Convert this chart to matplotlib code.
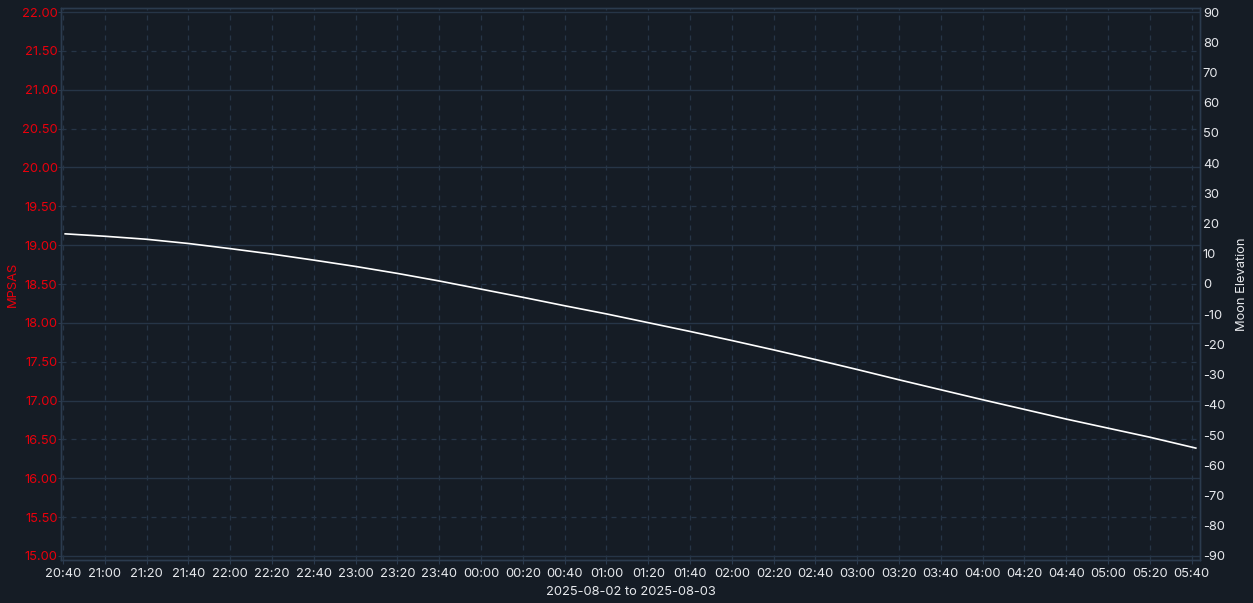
import matplotlib

matplotlib.use("Agg")
import matplotlib.dates as mdates
import matplotlib.pyplot as plt
import numpy as np
import pandas as pd

plt.rcParams["font.family"] = ["Inter", "DejaVu Sans"]
plt.rcParams["axes.unicode_minus"] = False

# Moon elevation (degrees)
times = [
    "2025-08-02 20:41", "2025-08-02 21:00", "2025-08-02 21:20", "2025-08-02 21:40",
    "2025-08-02 22:00", "2025-08-02 22:20", "2025-08-02 22:40", "2025-08-02 23:00",
    "2025-08-02 23:20", "2025-08-02 23:40", "2025-08-03 00:00", "2025-08-03 00:20",
    "2025-08-03 00:40", "2025-08-03 01:00", "2025-08-03 01:20", "2025-08-03 01:40",
    "2025-08-03 02:00", "2025-08-03 02:20", "2025-08-03 02:40", "2025-08-03 03:00",
    "2025-08-03 03:20", "2025-08-03 03:40", "2025-08-03 04:00", "2025-08-03 04:20",
    "2025-08-03 04:40", "2025-08-03 05:00", "2025-08-03 05:20", "2025-08-03 05:42",
]
moon_elevation = [
    16.6, 15.8, 14.8, 13.4, 11.7, 9.9, 7.9, 5.8,
    3.5, 1.0, -1.7, -4.4, -7.2, -9.9, -12.8, -15.7,
    -18.7, -21.8, -25.0, -28.3, -31.7, -35.0, -38.3, -41.5,
    -44.7, -47.7, -50.7, -54.3,
]

mpsas_ticks = np.arange(15.0, 22.01, 0.5)
elev_ticks = np.arange(-90, 91, 10)

BG = "#151c25"
GRID = "#263547"
SPINE = "#2b3b4e"
RED = "#e8000c"
TXT = "#e6e8ec"
FS = 9.3

t = pd.to_datetime(times)

fig = plt.figure(figsize=(12.53, 6.03), dpi=100, facecolor=BG)
ax = fig.add_axes([61 / 1253, 43 / 603, (1200 - 61) / 1253, (560 - 8) / 603])
ax.set_facecolor(BG)
ax2 = ax.twinx()

ax2.plot(t, moon_elevation, color="white", linewidth=1.2)

ax.set_xlim(pd.Timestamp("2025-08-02 20:39"), pd.Timestamp("2025-08-03 05:44"))
ax.set_ylim(14.948, 22.052)
ax2.set_ylim(-91.33, 91.33)

ax.set_yticks(mpsas_ticks)
ax.set_yticklabels([f"{v:.2f}" for v in mpsas_ticks])
ax2.set_yticks(elev_ticks)

ax.xaxis.set_major_locator(mdates.MinuteLocator(byminute=[0, 20, 40]))
ax.xaxis.set_major_formatter(mdates.DateFormatter("%H:%M"))

ax.grid(True, axis="x", color=GRID, linestyle=(0, (4, 4)), linewidth=0.9)
ax.grid(True, axis="y", color=GRID, linewidth=1.0)
for v, gl in zip(mpsas_ticks, ax.get_ygridlines()):
    if v % 1 != 0:
        gl.set_linestyle((0, (4, 4)))
        gl.set_linewidth(0.9)

for a in (ax, ax2):
    for s in a.spines.values():
        s.set_color(SPINE)
        s.set_linewidth(1.0)

ax.tick_params(axis="y", colors=SPINE, labelcolor=RED, labelsize=FS, length=2, pad=0.5)
ax.tick_params(axis="x", colors=SPINE, labelcolor=TXT, labelsize=FS, length=3, pad=3)
ax2.tick_params(axis="y", colors=SPINE, labelcolor=TXT, labelsize=FS, length=0, pad=2)

ax.set_ylabel("MPSAS", color=RED, fontsize=FS)
ax.yaxis.set_label_coords(-0.0369, 0.5)
ax2.set_ylabel("Moon Elevation", color=TXT, fontsize=FS)
ax2.yaxis.set_label_coords(1.0316, 0.5)
ax.set_xlabel("2025-08-02 to 2025-08-03", color=TXT, fontsize=FS)
ax.xaxis.set_label_coords(0.5, -0.047)

fig.savefig("out.png", dpi=100, facecolor=BG)
